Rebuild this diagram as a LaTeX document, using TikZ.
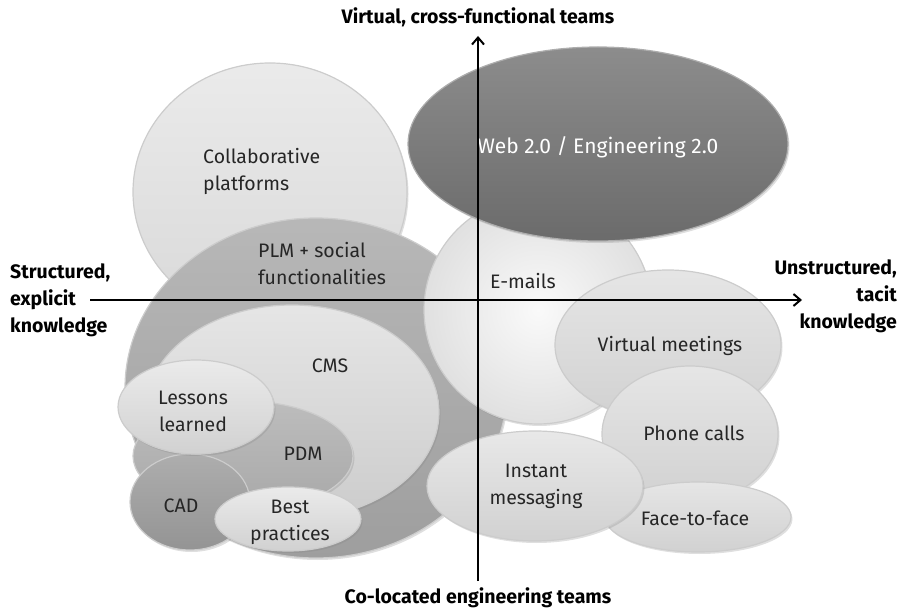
\documentclass[tikz,border=0pt]{standalone}
\usepackage{fontspec}
\setmainfont{Fira Sans}
\usetikzlibrary{shapes.geometric,arrows.meta,shadows}
\begin{document}
\begin{tikzpicture}[x=1pt,y=-1pt,
  bub/.style={ellipse,inner sep=0pt,line width=1.2pt,draw=white!80!black,
    drop shadow={opacity=0.25,shadow xshift=1.5pt,shadow yshift=-2pt}},
  lbl/.style={font=\fontsize{19.5}{27}\selectfont,text=black!85,align=left,inner sep=0pt},
  clbl/.style={lbl,align=center},
  axlbl/.style={font=\bfseries\fontsize{19.5}{27}\selectfont,inner sep=0pt},
  axis/.style={line width=2.2pt,-{Straight Barb[length=7pt,width=12pt,line width=2pt]}}]
\useasboundingbox (0,0) rectangle (903,612);
% back layer
\node[bub,minimum width=274pt,minimum height=258pt,top color=white!92!black,bottom color=white!85!black] (collab) at (270,192) {};
\node[bub,minimum width=382pt,minimum height=340pt,top color=white!72!black,bottom color=white!62!black] (plm) at (316,388) {};
\node[bub,minimum width=228pt,minimum height=228pt,inner color=white!98!black,outer color=white!88!black] (email) at (538,310) {};
\node[bub,minimum width=380pt,minimum height=194pt,draw=white!68!black,top color=white!55!black,bottom color=white!42!black] (web) at (598,144) {};
\node[bub,minimum width=226pt,minimum height=150pt,top color=white!90!black,bottom color=white!82!black] (vm) at (668,345) {};
\node[bub,minimum width=176pt,minimum height=136pt,top color=white!90!black,bottom color=white!82!black] (phone) at (690,434) {};
\node[bub,minimum width=186pt,minimum height=70pt,top color=white!90!black,bottom color=white!82!black] (f2f) at (698,517) {};
\node[bub,minimum width=216pt,minimum height=110pt,top color=white!91!black,bottom color=white!82!black] (im) at (535,486) {};
% structured cluster
\node[bub,minimum width=294pt,minimum height=214pt,top color=white!90!black,bottom color=white!80!black] (cms) at (292,412) {};
\node[bub,minimum width=220pt,minimum height=110pt,top color=white!74!black,bottom color=white!66!black] (pdm) at (243,456) {};
\node[bub,minimum width=120pt,minimum height=96pt,top color=white!68!black,bottom color=white!58!black] (cad) at (190,502) {};
\node[bub,minimum width=156pt,minimum height=94pt,top color=white!92!black,bottom color=white!82!black] (lessons) at (196,407) {};
\node[bub,minimum width=146pt,minimum height=64pt,top color=white!92!black,bottom color=white!82!black] (best) at (288,519) {};
% labels
\node[lbl,anchor=west] (tcollab) at (203,171) {Collaborative\\platforms};
\node[lbl,anchor=west] (tplm) at (258,264) {PLM + social\\functionalities};
\node[lbl,text=white,anchor=center,font=\fontsize{21}{27}\selectfont] (tweb) at (598,147) {Web 2.0 / Engineering 2.0};
\node[lbl,anchor=west] (temail) at (490,281) {E-mails};
\node[lbl,anchor=center] (tvm) at (670,346) {Virtual meetings};
\node[lbl,anchor=center] (tphone) at (694,433) {Phone calls};
\node[clbl,anchor=center] (tim) at (536,486) {Instant\\messaging};
\node[lbl,anchor=center] (tf2f) at (695,518) {Face-to-face};
\node[lbl,anchor=center] (tcms) at (330,366) {CMS};
\node[clbl,anchor=center] (tlessons) at (193,411) {Lessons\\learned};
\node[lbl,anchor=center] (tpdm) at (303,454) {PDM};
\node[lbl,anchor=center] (tcad) at (181,506) {CAD};
\node[clbl,anchor=center] (tbest) at (290,522) {Best\\practices};
% axes
\coordinate (xl) at (90,300);
\coordinate (xr) at (802,300);
\coordinate (yb) at (478,581);
\coordinate (yt) at (478,36);
\draw[axis] (xl) -- (xr);
\draw[axis] (yb) -- (yt);
\node[axlbl,anchor=center] (top) at (478,17) {Virtual, cross-functional teams};
\node[axlbl,anchor=center] (bottom) at (478,598) {Co-located engineering teams};
\node[axlbl,anchor=west,align=left] (left) at (10,300) {Structured,\\explicit\\knowledge};
\node[axlbl,anchor=east,align=right] (right) at (897,296) {Unstructured,\\tacit\\knowledge};
\end{tikzpicture}
\end{document}
